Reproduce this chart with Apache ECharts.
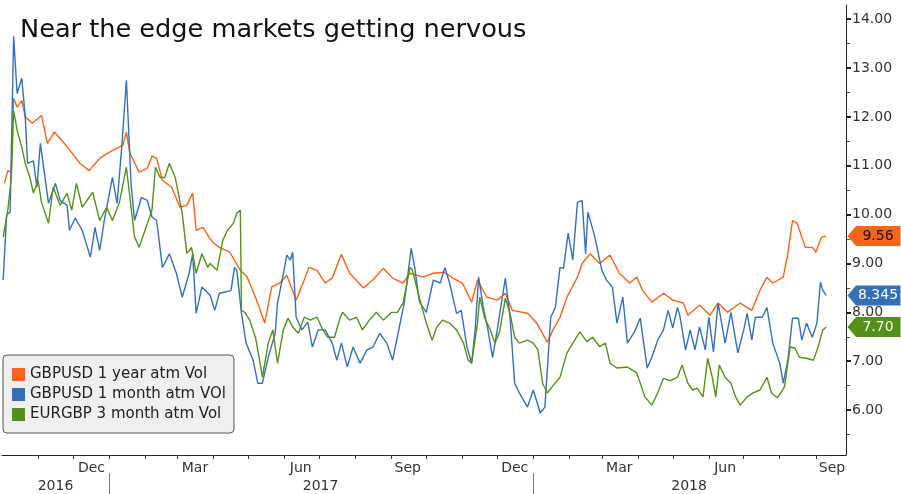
<!DOCTYPE html>
<html><head><meta charset="utf-8">
<script src="https://cdn.jsdelivr.net/npm/echarts@6/dist/echarts.min.js"></script>
<style>html,body{margin:0;padding:0;background:#fff}#c{width:901px;height:494px}</style>
</head><body><div id="c"></div>
<script>
const titleText = 'Near the edge markets getting nervous';
const seriesNames = ['GBPUSD 1 year atm Vol', 'GBPUSD 1 month atm VOl', 'EURGBP 3 month atm Vol'];

const gbpusd1yDates = ['2016-10-03','2016-10-06','2016-10-09','2016-10-11','2016-10-14','2016-10-18','2016-10-21','2016-10-27','2016-11-04','2016-11-09','2016-11-15','2016-11-25','2016-12-07','2016-12-15','2016-12-24','2016-12-31','2017-01-08','2017-01-13','2017-01-16','2017-01-19','2017-01-27','2017-02-03','2017-02-07','2017-02-11','2017-02-16','2017-02-24','2017-03-03','2017-03-09','2017-03-14','2017-03-17','2017-03-23','2017-03-29','2017-04-01','2017-04-06','2017-04-15','2017-04-24','2017-04-30','2017-05-08','2017-05-15','2017-05-21','2017-05-28','2017-06-03','2017-06-11','2017-06-17','2017-06-22','2017-06-29','2017-07-06','2017-07-12','2017-07-20','2017-07-27','2017-08-08','2017-08-16','2017-08-25','2017-09-02','2017-09-11','2017-09-17','2017-09-28','2017-10-07','2017-10-16','2017-10-24','2017-11-01','2017-11-09','2017-11-14','2017-11-22','2017-12-01','2017-12-08','2017-12-14','2017-12-27','2018-01-04','2018-01-13','2018-01-18','2018-01-24','2018-01-30','2018-02-08','2018-02-12','2018-02-19','2018-02-27','2018-03-08','2018-03-16','2018-03-25','2018-03-31','2018-04-05','2018-04-13','2018-04-23','2018-05-01','2018-05-10','2018-05-14','2018-05-24','2018-06-02','2018-06-09','2018-06-17','2018-06-28','2018-07-08','2018-07-15','2018-07-21','2018-07-26','2018-08-04','2018-08-08','2018-08-12','2018-08-16','2018-08-23','2018-08-29','2018-09-01','2018-09-06','2018-09-10'];
const gbpusd1yValues = [10.64,10.90,10.87,12.38,12.20,12.34,12.00,11.87,12.03,11.46,11.69,11.42,11.05,10.90,11.15,11.26,11.36,11.42,11.69,11.26,10.87,10.95,11.20,11.15,10.70,10.56,10.15,10.19,10.44,9.68,9.74,9.50,9.42,9.33,9.23,8.86,8.72,8.25,7.78,8.52,8.60,8.76,8.25,8.60,8.92,8.86,8.60,8.70,9.19,8.80,8.50,8.66,8.90,8.70,8.60,8.80,8.72,8.80,8.82,8.70,8.60,8.21,8.66,8.31,8.25,8.39,8.04,7.98,7.78,7.39,7.64,7.90,8.31,8.72,9.00,9.20,9.00,9.17,8.80,8.60,8.72,8.45,8.21,8.39,8.25,8.19,7.94,8.15,7.94,8.19,8.00,8.19,8.04,8.45,8.72,8.60,8.72,9.20,9.88,9.82,9.33,9.33,9.23,9.54,9.56];

const gbpusd1mDates = ['2016-10-02','2016-10-05','2016-10-08','2016-10-11','2016-10-14','2016-10-18','2016-10-21','2016-10-23','2016-10-28','2016-10-31','2016-11-03','2016-11-05','2016-11-10','2016-11-16','2016-11-20','2016-11-26','2016-11-28','2016-12-03','2016-12-09','2016-12-16','2016-12-20','2016-12-24','2016-12-28','2017-01-04','2017-01-08','2017-01-12','2017-01-16','2017-01-20','2017-01-23','2017-01-29','2017-02-03','2017-02-07','2017-02-11','2017-02-16','2017-02-22','2017-02-28','2017-03-05','2017-03-11','2017-03-14','2017-03-17','2017-03-22','2017-03-29','2017-04-02','2017-04-06','2017-04-12','2017-04-16','2017-04-19','2017-04-21','2017-04-25','2017-04-29','2017-05-05','2017-05-09','2017-05-13','2017-05-18','2017-05-24','2017-05-26','2017-05-30','2017-06-03','2017-06-06','2017-06-08','2017-06-11','2017-06-16','2017-06-21','2017-06-25','2017-06-30','2017-07-06','2017-07-12','2017-07-16','2017-07-20','2017-07-25','2017-07-30','2017-08-05','2017-08-11','2017-08-16','2017-08-22','2017-08-28','2017-09-02','2017-09-06','2017-09-12','2017-09-18','2017-09-21','2017-09-25','2017-10-01','2017-10-07','2017-10-13','2017-10-17','2017-10-21','2017-10-27','2017-10-31','2017-11-05','2017-11-09','2017-11-12','2017-11-15','2017-11-19','2017-11-23','2017-11-27','2017-12-01','2017-12-05','2017-12-08','2017-12-12','2017-12-16','2017-12-20','2017-12-27','2018-01-01','2018-01-07','2018-01-11','2018-01-16','2018-01-20','2018-01-24','2018-01-27','2018-01-31','2018-02-04','2018-02-08','2018-02-12','2018-02-15','2018-02-17','2018-02-23','2018-03-01','2018-03-05','2018-03-10','2018-03-14','2018-03-19','2018-03-23','2018-03-29','2018-04-03','2018-04-09','2018-04-13','2018-04-18','2018-04-23','2018-04-27','2018-05-01','2018-05-05','2018-05-07','2018-05-12','2018-05-16','2018-05-20','2018-05-24','2018-05-29','2018-06-01','2018-06-05','2018-06-09','2018-06-15','2018-06-20','2018-06-26','2018-07-01','2018-07-04','2018-07-08','2018-07-11','2018-07-17','2018-07-21','2018-07-26','2018-08-01','2018-08-04','2018-08-08','2018-08-12','2018-08-17','2018-08-20','2018-08-24','2018-08-29','2018-09-02','2018-09-05','2018-09-07','2018-09-10'];
const gbpusd1mValues = [8.66,10.00,10.05,13.65,12.48,12.79,12.00,11.05,11.10,10.56,11.46,11.11,10.23,10.64,10.29,10.19,9.68,9.93,9.68,9.13,9.74,9.27,9.88,10.76,10.23,11.38,12.75,10.64,9.88,10.35,10.29,9.95,9.88,8.92,9.20,8.80,8.31,8.80,9.20,7.98,8.52,8.35,8.04,8.39,8.42,8.45,8.92,8.86,7.98,7.37,7.02,6.55,6.55,7.08,7.57,8.19,8.66,9.17,9.07,9.23,7.90,7.64,7.80,7.29,7.64,7.64,7.37,7.02,7.37,6.88,7.29,6.96,7.23,7.29,7.57,7.37,7.02,7.49,8.19,9.31,8.92,8.22,8.00,8.66,8.60,8.92,8.60,7.98,8.04,7.29,6.96,7.64,8.72,8.10,7.64,7.08,7.64,8.25,8.70,7.90,6.55,6.35,6.06,6.41,5.94,6.06,7.90,8.10,8.92,8.90,9.62,9.07,10.25,10.29,9.20,10.05,9.54,8.86,8.66,8.52,7.78,8.31,7.37,7.60,7.88,6.86,7.08,7.43,7.64,8.04,7.68,8.10,7.94,7.23,7.64,7.23,7.70,7.23,7.90,7.19,8.19,7.37,8.00,7.17,7.64,7.98,7.43,7.90,7.90,8.10,7.37,6.96,6.55,7.02,7.88,7.88,7.43,7.78,7.49,7.78,8.62,8.45,8.345];

const eurgbp3mDates = ['2016-10-02','2016-10-06','2016-10-09','2016-10-11','2016-10-14','2016-10-18','2016-10-21','2016-10-25','2016-10-28','2016-11-01','2016-11-04','2016-11-10','2016-11-14','2016-11-20','2016-11-26','2016-11-30','2016-12-04','2016-12-09','2016-12-18','2016-12-24','2016-12-30','2017-01-04','2017-01-10','2017-01-16','2017-01-20','2017-01-23','2017-01-27','2017-02-03','2017-02-07','2017-02-10','2017-02-14','2017-02-18','2017-02-22','2017-02-27','2017-03-05','2017-03-09','2017-03-13','2017-03-17','2017-03-22','2017-03-27','2017-03-29','2017-04-04','2017-04-09','2017-04-13','2017-04-18','2017-04-21','2017-04-24','2017-04-25','2017-04-28','2017-05-02','2017-05-07','2017-05-11','2017-05-13','2017-05-18','2017-05-22','2017-05-26','2017-05-31','2017-06-04','2017-06-08','2017-06-13','2017-06-18','2017-06-23','2017-06-29','2017-07-04','2017-07-08','2017-07-14','2017-07-19','2017-07-21','2017-07-27','2017-08-02','2017-08-07','2017-08-13','2017-08-19','2017-08-25','2017-09-01','2017-09-06','2017-09-11','2017-09-17','2017-09-19','2017-09-25','2017-10-01','2017-10-06','2017-10-10','2017-10-15','2017-10-21','2017-10-27','2017-11-02','2017-11-06','2017-11-09','2017-11-14','2017-11-16','2017-11-20','2017-11-25','2017-11-29','2017-12-03','2017-12-08','2017-12-12','2017-12-16','2017-12-20','2017-12-27','2018-01-01','2018-01-05','2018-01-09','2018-01-13','2018-01-18','2018-01-24','2018-01-30','2018-02-04','2018-02-10','2018-02-16','2018-02-21','2018-02-27','2018-03-04','2018-03-08','2018-03-14','2018-03-23','2018-03-31','2018-04-07','2018-04-13','2018-04-18','2018-04-23','2018-04-29','2018-05-05','2018-05-09','2018-05-14','2018-05-18','2018-05-22','2018-05-27','2018-05-31','2018-06-04','2018-06-07','2018-06-10','2018-06-15','2018-06-20','2018-06-24','2018-06-28','2018-07-04','2018-07-09','2018-07-15','2018-07-21','2018-07-25','2018-07-30','2018-08-05','2018-08-10','2018-08-14','2018-08-18','2018-08-24','2018-08-30','2018-09-03','2018-09-07','2018-09-10'];
const eurgbp3mValues = [9.54,10.09,10.76,12.13,11.73,11.38,11.05,10.76,10.44,10.70,10.25,9.82,10.56,10.19,10.44,10.09,10.64,10.15,10.46,9.88,10.15,9.88,10.25,10.97,10.15,9.54,9.33,9.82,10.09,10.97,10.76,10.76,11.05,10.76,10.03,9.20,9.33,8.80,9.20,8.92,9.00,8.86,9.48,9.68,9.82,10.03,10.09,8.04,8.00,7.84,7.49,6.96,6.67,7.37,7.64,6.96,7.64,7.88,7.70,7.57,7.90,7.84,7.90,7.64,7.49,7.49,7.90,8.00,7.84,7.90,7.64,7.84,8.00,7.84,8.00,8.00,8.19,8.92,8.86,8.30,7.78,7.43,7.70,7.84,7.78,7.64,7.37,7.02,6.96,7.78,8.31,7.90,7.64,7.37,7.60,8.29,7.98,7.49,7.37,7.43,7.37,7.23,6.55,6.35,6.50,6.67,7.17,7.37,7.60,7.40,7.49,7.30,7.37,6.96,6.86,6.88,6.76,6.27,6.10,6.35,6.65,6.60,6.67,6.92,6.55,6.41,6.45,6.27,7.06,6.67,6.27,6.92,6.67,6.55,6.27,6.10,6.27,6.35,6.41,6.67,6.35,6.25,6.47,7.29,7.27,7.08,7.06,7.02,7.29,7.64,7.70];

const yMajorTicks = [6,7,8,9,10,11,12,13,14];
const yMinorTicks = [5.5,6.5,7.5,8.5,9.5,10.5,11.5,12.5,13.5];
const monthTickDates = ['2016-11-01','2016-12-01','2017-01-01','2017-02-01','2017-03-01','2017-04-01','2017-05-01','2017-06-01','2017-07-01','2017-08-01','2017-09-01','2017-10-01','2017-11-01','2017-12-01','2018-01-01','2018-02-01','2018-03-01','2018-04-01','2018-05-01','2018-06-01','2018-07-01','2018-08-01','2018-09-01'];
const monthLabelDates = ['2016-12-17','2017-03-16','2017-06-15','2017-09-15','2017-12-16','2018-03-16','2018-06-15','2018-09-15'];
const monthNames = ['Jan','Feb','Mar','Apr','May','Jun','Jul','Aug','Sep','Oct','Nov','Dec'];
const yearSeparatorDates = ['2017-01-01','2018-01-01'];
const yearLabelDates = ['2016-11-16','2017-07-02','2018-05-15'];
const xMinDate = '2016-10-01';
const xMaxDate = '2018-09-27';

const colors = ['#f4661b', '#3570b7', '#55901a'];
const tagTextColors = ['#2a0800', '#ffffff', '#f2ffe6'];
const FONT = 'DejaVu Sans';

// date string -> UTC timestamp (ms) so a plain value axis can be used as the time scale
function ts(s) { const p = s.split('-').map(Number); return Date.UTC(p[0], p[1] - 1, p[2]); }
function pairs(d, v) { return d.map((x, i) => [ts(x), v[i]]); }
function fmtTag(v) { return (Math.round(v * 100) / 100 === v) ? v.toFixed(2) : String(v); }

const seriesDefs = [[gbpusd1yDates, gbpusd1yValues], [gbpusd1mDates, gbpusd1mValues], [eurgbp3mDates, eurgbp3mValues]];
const xMin = ts(xMinDate), xMax = ts(xMaxDate);

const chart = echarts.init(document.getElementById('c'), null, {renderer: 'canvas'});
chart.setOption({
  animation: false,
  backgroundColor: '#ffffff',
  title: { text: titleText, left: 15, top: 12, textStyle: { fontFamily: FONT, fontSize: 25.6, fontWeight: 'normal', color: '#111' } },
  legend: {
    orient: 'vertical', left: 3, top: 355,
    data: seriesNames, icon: 'rect', itemWidth: 13, itemHeight: 13, itemGap: 5,
    padding: [12, 8, 11, 9],
    backgroundColor: '#efefef', borderColor: '#555', borderWidth: 1, borderRadius: 4,
    textStyle: { fontFamily: FONT, fontSize: 15, color: '#222' }
  },
  grid: { left: 2, right: 55, top: 5, bottom: 39, containLabel: false, outerBoundsMode: 'none' },
  xAxis: [
    {
      type: 'value', min: xMin, max: xMax, position: 'bottom',
      axisLine: { show: true, lineStyle: { color: '#222', width: 1 } },
      axisTick: { show: true, customValues: monthTickDates.map(ts), length: 4, lineStyle: { color: '#333' } },
      axisLabel: { customValues: monthLabelDates.map(ts), margin: 6, fontFamily: FONT, fontSize: 14, color: '#333',
        formatter: v => monthNames[new Date(v).getUTCMonth()] },
      splitLine: { show: false }
    },
    {
      type: 'value', min: xMin, max: xMax, position: 'bottom', offset: 18,
      axisLine: { show: false },
      axisTick: { show: true, customValues: yearSeparatorDates.map(ts), length: 22, lineStyle: { color: '#777' } },
      axisLabel: { customValues: yearLabelDates.map(ts), margin: 6, fontFamily: FONT, fontSize: 14, color: '#333',
        formatter: v => String(new Date(v).getUTCFullYear()) },
      splitLine: { show: false }
    }
  ],
  yAxis: [
    {
      type: 'value', position: 'right', min: 5.08, max: 14.29,
      axisLine: { show: true, lineStyle: { color: '#222', width: 1 } },
      axisTick: { show: true, customValues: yMajorTicks, length: 5, lineStyle: { color: '#222', width: 2 } },
      axisLabel: { customValues: yMajorTicks, margin: 6, fontFamily: FONT, fontSize: 14, color: '#333',
        formatter: v => Number(v).toFixed(2) },
      splitLine: { show: false }
    },
    {
      type: 'value', position: 'right', min: 5.08, max: 14.29,
      axisLine: { show: false },
      axisTick: { show: true, customValues: yMinorTicks, length: 4, lineStyle: { color: '#444', width: 1 } },
      axisLabel: { show: false },
      splitLine: { show: false }
    }
  ],
  series: seriesDefs.map((sd, i) => {
    const last = sd[1][sd[1].length - 1];
    return {
      name: seriesNames[i], type: 'line', xAxisIndex: 0, yAxisIndex: 0,
      data: pairs(sd[0], sd[1]), showSymbol: false, symbol: 'none',
      color: colors[i], lineStyle: { width: 1.4, color: colors[i] },
      markPoint: {
        symbol: 'path://M0,10L9,0L56,0L56,20L9,20Z', symbolSize: [53, 20], symbolOffset: [28, 0],
        itemStyle: { color: colors[i] },
        label: { show: true, position: 'inside', offset: [4, 0], color: tagTextColors[i], fontFamily: FONT, fontSize: 14,
          formatter: p => fmtTag(p.value) },
        data: [{ coord: [xMax, last], value: last }]
      }
    };
  })
});
</script></body></html>
